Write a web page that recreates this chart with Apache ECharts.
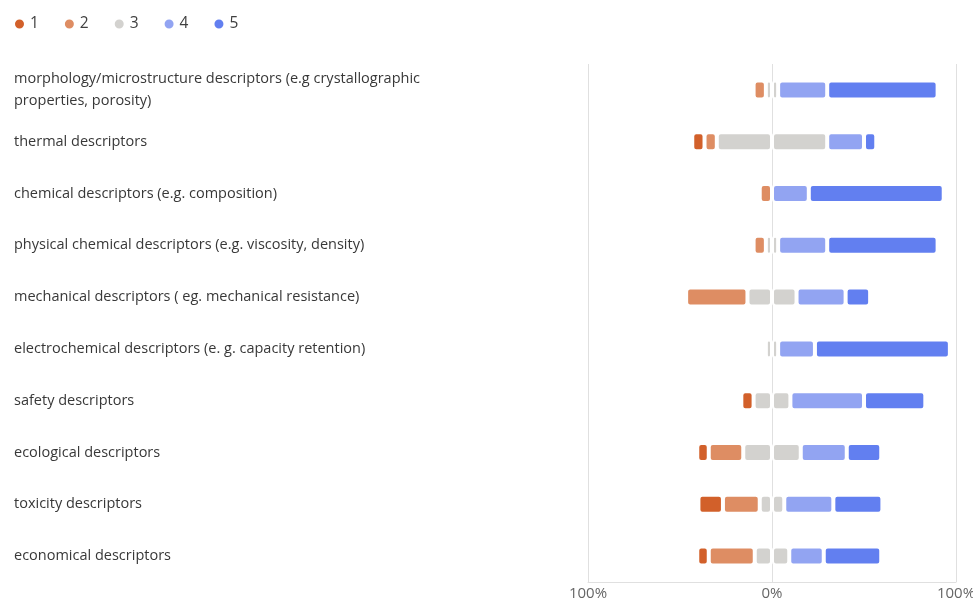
<!DOCTYPE html>
<html>
<head>
<meta charset="utf-8">
<script src="https://cdn.jsdelivr.net/npm/echarts@6/dist/echarts.min.js"></script>
<style>
html,body{margin:0;padding:0;background:#fff;}
#chart{width:973px;height:600px;}
</style>
</head>
<body>
<div id="chart"></div>
<script>
const categories = [
  "morphology/microstructure descriptors (e.g crystallographic properties, porosity)",
  "thermal descriptors",
  "chemical descriptors (e.g. composition)",
  "physical chemical descriptors (e.g. viscosity, density)",
  "mechanical descriptors ( eg. mechanical resistance)",
  "electrochemical descriptors (e. g. capacity retention)",
  "safety descriptors",
  "ecological descriptors",
  "toxicity descriptors",
  "economical descriptors"
];
const legendNames = ["1", "2", "3", "4", "5"];
const s1 = [0, 6.67, 0, 0, 0, 0, 6.67, 6.25, 13.33, 6.25];
const s2 = [6.67, 6.67, 6.67, 6.67, 33.33, 0, 0, 18.75, 20, 25];
const s3 = [6.67, 60, 0, 6.67, 26.67, 6.67, 20, 31.25, 13.33, 18.75];
const s4 = [26.67, 20, 20, 26.67, 26.67, 20, 40, 25, 26.67, 18.75];
const s5 = [60, 6.67, 73.33, 60, 13.33, 73.33, 33.33, 18.75, 26.67, 31.25];
const xTicks = [-100, 0, 100];

const colors = ["#d2602a", "#de8d63", "#d3d2cf", "#92a4f2", "#627ff0"];
const FONT = "'Segoe UI', 'Open Sans', 'Noto Sans', sans-serif";

function bar(name, data, color) {
  return {
    name: name,
    type: 'bar',
    stack: 'total',
    barWidth: 19,
    data: data.map(v => (v === 0 ? null : v)),
    itemStyle: { color: color, borderColor: '#fff', borderWidth: 2, borderRadius: 3 },
    emphasis: { disabled: true }
  };
}

const chart = echarts.init(document.getElementById('chart'), null, { renderer: 'canvas' });
chart.setOption({
  animation: false,
  color: colors,
  legend: {
    data: legendNames,
    left: 8,
    top: 11,
    icon: 'circle',
    itemWidth: 11,
    itemHeight: 11,
    itemGap: 24,
    textStyle: { fontFamily: FONT, fontSize: 15.5, color: '#404040' }
  },
  grid: { left: 588, right: 17, top: 64, height: 518, containLabel: false, outerBoundsMode: 'none' },
  xAxis: {
    type: 'value',
    min: xTicks[0],
    max: xTicks[2],
    interval: 100,
    axisLine: { show: true, lineStyle: { color: '#e0e0e0' } },
    axisTick: { show: false },
    splitLine: { show: true, lineStyle: { color: '#e0e0e0', width: 1 } },
    axisLabel: {
      margin: 4,
      fontFamily: FONT,
      fontSize: 15,
      color: '#666',
      formatter: v => Math.abs(v) + '%'
    }
  },
  yAxis: {
    type: 'category',
    inverse: true,
    data: categories,
    axisLine: { show: false },
    axisTick: { show: false },
    axisLabel: {
      align: 'left',
      margin: 574,
      width: 430,
      overflow: 'break',
      lineHeight: 22,
      fontFamily: FONT,
      fontSize: 14.5,
      color: '#383838'
    }
  },
  series: [
    bar('3', s3.map(v => -v / 2), colors[2]),
    bar('3', s3.map(v => v / 2), colors[2]),
    bar('2', s2.map(v => -v), colors[1]),
    bar('1', s1.map(v => -v), colors[0]),
    bar('4', s4, colors[3]),
    bar('5', s5, colors[4])
  ]
});
</script>
</body>
</html>
